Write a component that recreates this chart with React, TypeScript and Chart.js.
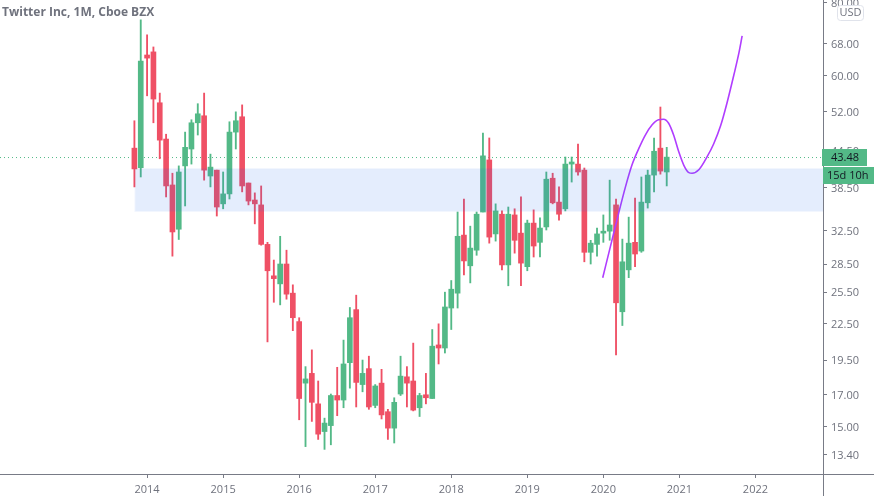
import { useEffect, useRef } from 'react';
import { Chart, registerables } from 'chart.js';

Chart.register(...registerables);

// monthly candles, Nov 2013 to Nov 2020. x is months counted from Jan 2014
const firstMonth = -2;
const opens = [45.05, 41.7, 65.1, 65.9, 53.9, 46.7, 38.95, 32.7, 42.0, 44.9, 49.8, 51.2, 40.35, 41.3, 36.15, 37.6, 48.0, 51.0, 39.25, 36.7, 36.0, 30.8, 27.2, 26.35, 28.5, 25.4, 22.7, 17.8, 18.5, 16.4, 14.7, 15.05, 16.95, 16.65, 19.3, 23.8, 17.7, 18.85, 16.3, 17.8, 15.9, 14.9, 17.05, 18.25, 17.95, 16.15, 17.0, 16.75, 20.7, 20.45, 23.95, 25.4, 31.95, 28.3, 30.1, 35.0, 43.0, 32.1, 34.7, 28.4, 34.6, 32.2, 28.2, 33.5, 31.05, 33.0, 40.0, 36.4, 35.45, 42.3, 42.3, 41.3, 29.85, 30.8, 32.2, 32.45, 36.0, 23.6, 27.85, 31.05, 30.0, 36.3, 40.5, 45.05, 41.0];
const highs = [50.2, 74.8, 70.5, 67.2, 56.0, 47.6, 40.8, 42.0, 48.0, 50.4, 53.7, 56.0, 44.0, 41.3, 41.0, 50.0, 52.0, 53.45, 39.25, 37.75, 38.8, 31.05, 28.95, 31.8, 30.1, 26.25, 23.05, 19.0, 20.3, 17.95, 15.5, 17.05, 18.95, 21.1, 24.0, 25.2, 19.5, 19.8, 17.7, 18.8, 16.05, 16.8, 19.8, 19.0, 20.85, 17.1, 18.5, 22.0, 22.5, 25.5, 26.7, 35.0, 36.85, 33.1, 35.0, 47.8, 46.9, 36.15, 35.15, 35.7, 35.45, 37.15, 33.9, 35.3, 34.2, 41.0, 40.8, 38.65, 43.5, 43.5, 45.8, 41.65, 31.3, 32.85, 34.6, 39.7, 36.85, 31.45, 34.3, 37.0, 40.2, 41.3, 46.9, 53.0, 45.2];
const lows = [38.65, 40.2, 55.4, 49.8, 43.2, 37.15, 29.4, 31.4, 35.85, 42.3, 47.45, 39.7, 38.65, 34.45, 35.45, 36.85, 44.9, 37.9, 36.0, 33.4, 30.7, 20.95, 24.5, 24.25, 24.8, 21.9, 15.4, 13.85, 15.3, 14.25, 13.7, 13.95, 15.65, 16.15, 17.45, 16.2, 17.2, 16.05, 16.15, 15.45, 14.25, 14.05, 16.95, 16.2, 15.95, 15.6, 16.4, 16.75, 19.2, 20.05, 22.0, 23.95, 27.3, 26.45, 29.5, 35.0, 30.95, 31.2, 27.85, 26.15, 29.75, 26.15, 27.75, 29.3, 29.3, 32.6, 36.15, 33.9, 35.15, 39.4, 40.5, 28.75, 28.5, 29.4, 31.05, 31.3, 19.9, 22.35, 27.0, 28.2, 29.85, 35.55, 37.9, 40.65, 38.8];
const closes = [41.5, 63.55, 64.3, 54.7, 46.5, 38.8, 32.35, 41.0, 45.2, 49.8, 51.6, 41.3, 41.8, 35.7, 37.6, 48.0, 50.2, 38.8, 36.55, 36.15, 30.8, 27.75, 26.9, 28.5, 25.3, 23.05, 16.75, 18.1, 16.5, 14.55, 15.2, 16.95, 16.65, 19.2, 23.05, 17.85, 18.5, 16.2, 17.6, 15.7, 14.9, 16.5, 18.3, 17.8, 16.0, 16.95, 16.8, 20.6, 20.45, 24.05, 25.8, 31.8, 28.85, 30.35, 34.7, 43.7, 31.7, 35.15, 28.4, 34.7, 31.3, 28.6, 33.5, 30.6, 32.85, 39.85, 36.3, 34.7, 42.3, 42.65, 41.0, 29.85, 30.95, 32.1, 32.45, 33.25, 24.45, 28.75, 30.95, 29.65, 36.4, 40.5, 44.5, 41.15, 43.48];

// hand drawn projection curve
const curveMonths = [71.9, 73.1, 74.4, 75.5, 76.5, 77.6, 78.6, 79.7, 80.7, 81.5, 82.3, 83.1, 83.9, 84.7, 85.5, 86, 87.1, 88.4, 89.4, 90.5, 91.5, 92.6, 93.4, 93.9];
const curvePrices = [27.0, 30.5, 34.8, 38.7, 42.1, 45.0, 47.4, 49.4, 50.4, 50.5, 49.7, 47.4, 44.4, 42.1, 40.9, 40.8, 41.4, 43.6, 45.8, 49.2, 53.8, 60.2, 65.7, 70.2];

const bandHigh = 41.65;
const bandLow = 35.0;
const lastPrice = 43.48;
const priceLineLevel = 43.41;
const countdown = '15d 10h';

const yearTicks = [2014, 2015, 2016, 2017, 2018, 2019, 2020, 2021, 2022];
const priceTicks = [80, 68, 60, 52, 44.5, 38.5, 32.5, 28.5, 25.5, 22.5, 19.5, 17, 15, 13.4];

const GREEN = '#53b987';
const RED = '#ef5065';
const AXIS = '#787b86';
const LABEL = '#6f727d';
const FONT = '"Open Sans"';

const xMin = -23.21;
const xMax = 106.66;

const overlays = {
  id: 'overlays',
  afterDatasetsDraw(chart: any) {
    const { ctx, chartArea, scales } = chart;
    const left = scales.x.getPixelForValue(firstMonth);
    const top = scales.y.getPixelForValue(bandHigh);
    const bottom = scales.y.getPixelForValue(bandLow);
    ctx.save();
    // lighter one pixel edge round the zone
    ctx.fillStyle = 'rgba(40, 110, 230, 0.06)';
    ctx.fillRect(left, top, chartArea.right - left, bottom - top);
    ctx.fillStyle = 'rgba(40, 110, 230, 0.07)';
    ctx.fillRect(left + 1, top + 1, chartArea.right - left - 1, bottom - top - 2);
    ctx.restore();
  },
  afterDraw(chart: any) {
    const { ctx, chartArea, scales, width, height } = chart;
    ctx.save();

    // axis lines run on past the plot
    ctx.strokeStyle = AXIS;
    ctx.lineWidth = 1;
    ctx.beginPath();
    ctx.moveTo(chartArea.right, chartArea.bottom + 0.5);
    ctx.lineTo(width, chartArea.bottom + 0.5);
    ctx.moveTo(chartArea.right + 0.5, chartArea.bottom);
    ctx.lineTo(chartArea.right + 0.5, height);
    ctx.stroke();

    ctx.fillStyle = LABEL;
    ctx.font = `700 12px ${FONT}`;
    ctx.textAlign = 'left';
    ctx.textBaseline = 'alphabetic';
    ctx.fillText('Twitter Inc, 1M, Cboe BZX', 2, 16);

    // currency box
    ctx.beginPath();
    ctx.roundRect(837.5, 5.5, 26, 15, 3);
    ctx.fillStyle = '#fff';
    ctx.fill();
    ctx.strokeStyle = '#e0e3eb';
    ctx.stroke();
    ctx.fillStyle = LABEL;
    ctx.font = `11px ${FONT}`;
    ctx.textAlign = 'center';
    ctx.textBaseline = 'middle';
    ctx.fillText('USD', 850.5, 13);

    // last price and countdown tags
    const y = Math.round(scales.y.getPixelForValue(lastPrice));
    ctx.fillStyle = GREEN;
    ctx.fillRect(822, y - 8, 45, 17);
    ctx.fillRect(823, y + 10, 51, 17);
    ctx.fillStyle = '#131722';
    ctx.textAlign = 'left';
    ctx.fillText(lastPrice.toFixed(2), 831, y + 0.5);
    ctx.fillText(countdown, 827, y + 18.5);
    ctx.restore();
  },
};

export default function App() {
  const canvasRef = useRef<HTMLCanvasElement>(null);

  useEffect(() => {
    if (!canvasRef.current) return;
    const colors = closes.map((c, i) => (c >= opens[i] ? GREEN : RED));

    const chart = new Chart(canvasRef.current, {
      type: 'bar',
      data: {
        datasets: [
          {
            type: 'line',
            data: curveMonths.map((m, i) => ({ x: m, y: curvePrices[i] })),
            borderColor: '#b03dff',
            borderWidth: 1.6,
            pointRadius: 0,
            cubicInterpolationMode: 'monotone',
            order: 0,
          },
          {
            data: opens.map((o, i) => ({ x: firstMonth + i, y: [o, closes[i]] })),
            backgroundColor: colors,
            barThickness: 5,
            grouped: false,
            order: 1,
          },
          {
            data: highs.map((h, i) => ({ x: firstMonth + i, y: [lows[i], h] })),
            backgroundColor: colors,
            barThickness: 1.2,
            grouped: false,
            order: 2,
          },
          {
            type: 'line',
            data: [
              { x: xMin, y: priceLineLevel },
              { x: xMax, y: priceLineLevel },
            ],
            borderColor: GREEN,
            borderWidth: 1,
            borderDash: [1, 3],
            pointRadius: 0,
            order: 3,
          },
        ] as any,
      },
      options: {
        responsive: false,
        animation: false,
        layout: { padding: 0 },
        plugins: {
          legend: { display: false },
          tooltip: { enabled: false },
        },
        scales: {
          x: {
            type: 'linear',
            min: xMin,
            max: xMax,
            offset: false,
            afterBuildTicks: (scale: any) => {
              scale.ticks = yearTicks.map((y) => ({ value: (y - 2014) * 12 }));
            },
            afterFit: (scale: any) => {
              scale.height = 22;
              scale.paddingLeft = 0;
              scale.paddingRight = 0;
            },
            grid: { offset: false, drawOnChartArea: false, tickLength: 4, tickColor: AXIS },
            border: { color: AXIS },
            ticks: {
              color: LABEL,
              padding: 5,
              maxRotation: 0,
              autoSkip: false,
              font: { family: FONT, size: 11 },
              callback: (v: any) => String(2014 + Number(v) / 12),
            },
          },
          y: {
            type: 'logarithmic',
            position: 'right',
            min: 12.43,
            max: 80.9,
            afterBuildTicks: (scale: any) => {
              scale.ticks = priceTicks.map((value) => ({ value }));
            },
            afterFit: (scale: any) => {
              scale.width = 51;
              scale.paddingTop = 0;
              scale.paddingBottom = 0;
            },
            grid: { drawOnChartArea: false, tickLength: 4, tickColor: AXIS },
            border: { color: AXIS },
            ticks: {
              color: LABEL,
              padding: 4,
              labelOffset: 1,
              autoSkip: false,
              font: { family: FONT, size: 11 },
              callback: (v: any) => Number(v).toFixed(2),
            },
          },
        },
      },
      plugins: [overlays],
    });

    return () => chart.destroy();
  }, []);

  return (
    <div style={{ position: 'absolute', left: 0, top: 0, width: 874, height: 496, background: '#fff' }}>
      <canvas ref={canvasRef} width={874} height={496} style={{ display: 'block' }} />
    </div>
  );
}
